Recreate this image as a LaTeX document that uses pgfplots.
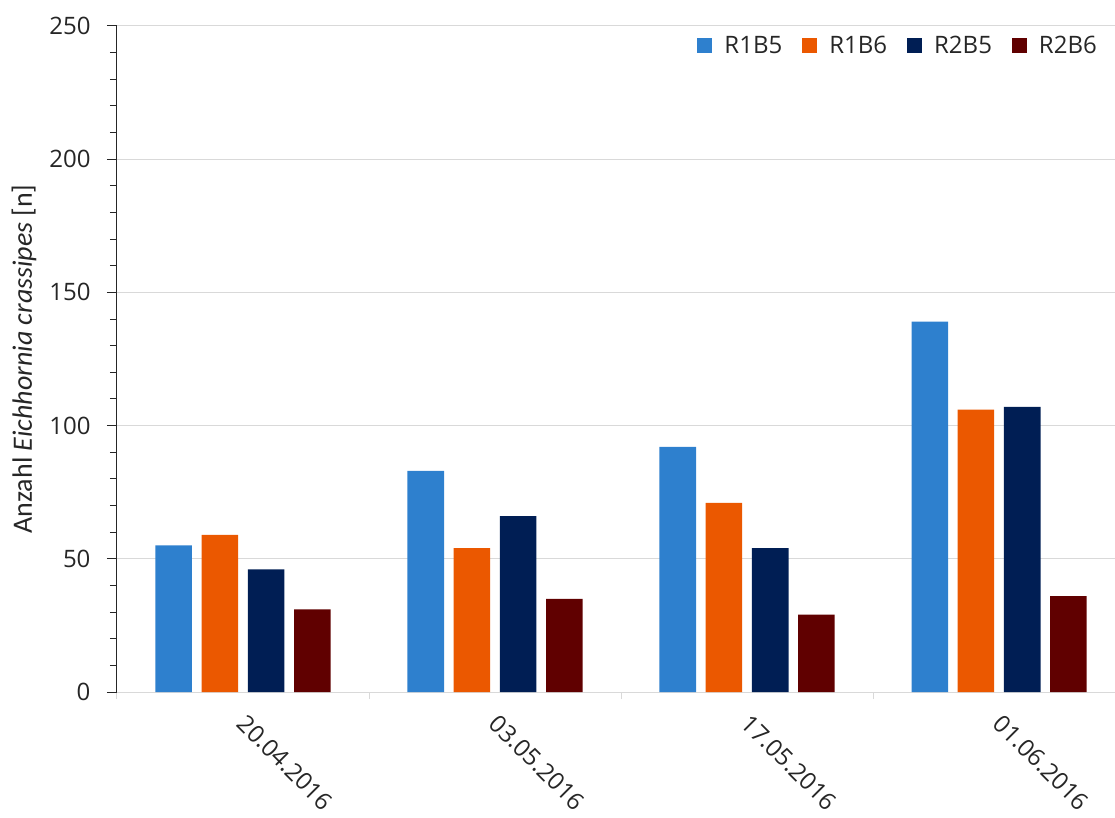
\documentclass[border=0pt]{standalone}
\usepackage{fontspec}
\setmainfont{Open Sans}
\newfontfamily\calibri{Carlito}
\usepackage{pgfplots}
\pgfplotsset{compat=1.18}

\definecolor{cA}{RGB}{46,128,206}
\definecolor{cB}{RGB}{235,88,0}
\definecolor{cC}{RGB}{0,30,84}
\definecolor{cD}{RGB}{96,0,0}
\definecolor{gridc}{RGB}{217,217,217}
\definecolor{txt}{RGB}{38,38,38}

\begin{document}
\begin{tikzpicture}
\begin{axis}[
  scale only axis, width=998pt, height=666pt,
  xmin=-0.5, xmax=3.46, ymin=0, ymax=250,
  ybar, bar width=0.145,
  ytick={0,50,...,250}, minor y tick num=4,
  xtick={0,1,2,3},
  xticklabels={20.04.2016,03.05.2016,17.05.2016,01.06.2016},
  minor xtick={-0.5,0.5,1.5,2.5},
  ymajorgrids, major grid style={gridc, line width=1pt},
  axis x line*=bottom, axis y line*=left,
  x axis line style={gridc, line width=1pt},
  y axis line style={black!85, line width=1pt},
  tick align=outside, major tick length=10pt, minor tick length=7pt,
  major x tick style={draw=none},
  minor x tick style={gridc, line width=1pt},
  y tick style={black!85, line width=1pt},
  /pgf/number format/assume math mode=true,
  tick label style={font=\fontsize{24}{28}\selectfont, text=txt},
  yticklabel style={xshift=-13pt},
  xticklabel style={xshift=5pt, yshift=-6pt, rotate=-45, anchor=north west},
  ylabel={Anzahl \textit{Eichhornia crassipes} [n]},
  ylabel style={font=\calibri\fontsize{28}{32}\selectfont, text=txt,
    at={(axis description cs:0,0.5)}, anchor=center, yshift=93pt},
  legend columns=4,
  legend style={draw=none, fill=none, at={(1,1)}, anchor=north east,
    xshift=-13pt, yshift=-6pt,
    font=\fontsize{24}{28}\selectfont, text=txt,
    /tikz/every odd column/.append style={column sep=10pt},
    /tikz/every even column/.append style={column sep=18pt}},
  legend image code/.code={\fill[#1,draw=none] (0pt,-7.5pt) rectangle (15pt,7.5pt);},
]
\addplot[fill=cA, draw=none, bar shift=-0.275] coordinates {(0,55) (1,83) (2,92) (3,139)};
\addplot[fill=cB, draw=none, bar shift=-0.092] coordinates {(0,59) (1,54) (2,71) (3,106)};
\addplot[fill=cC, draw=none, bar shift=0.092] coordinates {(0,46) (1,66) (2,54) (3,107)};
\addplot[fill=cD, draw=none, bar shift=0.275] coordinates {(0,31) (1,35) (2,29) (3,36)};
\legend{R1B5,R1B6,R2B5,R2B6}
\end{axis}
\pgfresetboundingbox
\path[use as bounding box] ([shift={(-117pt,-125pt)}]current axis.south west) rectangle ++(1115pt,817pt);
\end{tikzpicture}
\end{document}
